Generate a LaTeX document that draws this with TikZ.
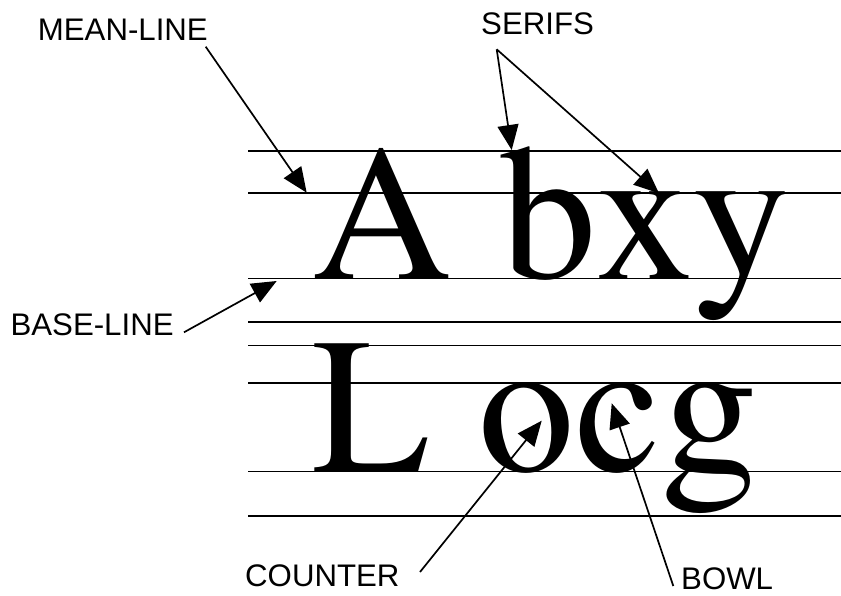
\documentclass[tikz,border=0pt]{standalone}
\usepackage{fontspec}
\setmainfont{texgyretermes-regular.otf}
\newfontfamily\lblfont{Liberation Sans}
\usetikzlibrary{arrows.meta,positioning}

\begin{document}
\begin{tikzpicture}[
    x=1pt, y=-1pt,
    guide/.style={line width=1.9pt, black},
    glyph/.style={anchor=base west, inner sep=0pt, font=\fontsize{193}{193}\selectfont},
    lbl/.style={anchor=base west, inner sep=0pt, font=\lblfont\fontsize{31.2}{31.2}\selectfont},
    arr/.style={-{Triangle[length=25pt, width=21pt]}, line width=1.7pt}
]
\useasboundingbox (0,0) rectangle (841,595);

% guide lines of the two rows
\foreach \y in {151,193,278.5,322,345.5,383,471.5,516}
    \draw[guide] (248,\y) -- (841,\y);

\node[glyph] (row1) at (312.5,278.5) {A bxy};
\node[glyph] (row2) at (312.5,471.5) {L ocg};

\node[lbl] (mean) at (37.7,40) {MEAN-LINE};
\node[lbl] (serifs) at (481,34.3) {SERIFS};
\node[lbl] (base) at (10.4,335) {BASE-LINE};
\node[lbl] (counter) at (245,586) {COUNTER};
\node[lbl] (bowl) at (681,589) {BOWL};

\coordinate (meanfrom) at (205.7,46.7);
\coordinate (meantip) at (306.7,192.7);
\coordinate (seriffrom) at (496.7,49.3);
\coordinate (seriftipb) at (511.7,150);
\coordinate (seriftipx) at (659,193.3);
\coordinate (basefrom) at (184,332.3);
\coordinate (basetip) at (276.7,281);
\coordinate (counterfrom) at (420,572);
\coordinate (countertip) at (541.7,420.7);
\coordinate (bowlfrom) at (673.3,586);
\coordinate (bowltip) at (611.7,403.3);

\draw[arr] (meanfrom) -- (meantip);
\draw[arr] (seriffrom) -- (seriftipb);
\draw[arr] (seriffrom) -- (seriftipx);
\draw[arr] (basefrom) -- (basetip);
\draw[arr] (counterfrom) -- (countertip);
\draw[arr] (bowlfrom) -- (bowltip);
\end{tikzpicture}
\end{document}
